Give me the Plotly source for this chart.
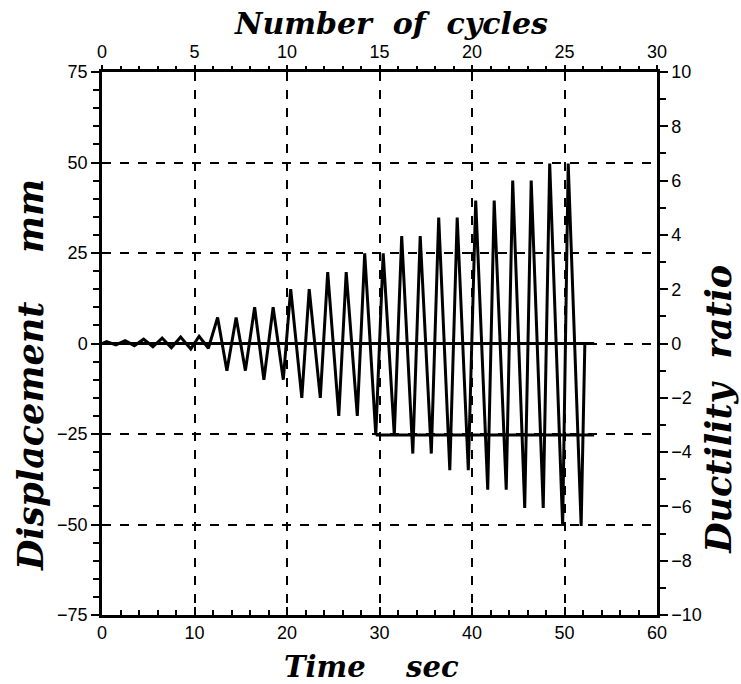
import plotly.graph_objects as go

# ---- data ----
peak_times = [0.5, 2.5, 4.5, 6.5, 8.5, 10.5, 12.5, 14.5, 16.5, 18.5,
              20.4, 22.4, 24.4, 26.4, 28.4, 30.4, 32.4, 34.4, 36.4, 38.4,
              40.4, 42.4, 44.4, 46.4, 48.4, 50.4]
peak_vals = [0.5, 0.8, 1.2, 1.5, 1.8, 2.0, 7.2, 7.2, 10.0, 10.0,
             15.0, 15.0, 19.7, 19.7, 24.9, 24.9, 29.7, 29.7, 34.8, 34.8,
             39.5, 39.5, 45.0, 45.0, 49.7, 49.7]
trough_times = [1.5, 3.5, 5.5, 7.5, 9.6, 11.5, 13.5, 15.5, 17.5, 19.6,
                21.6, 23.6, 25.6, 27.6, 29.6, 31.6, 33.6, 35.6, 37.6, 39.6,
                41.7, 43.7, 45.7, 47.7, 49.8, 51.8]
trough_vals = [-0.4, -0.6, -0.9, -1.2, -1.5, -1.3, -7.5, -7.5, -10.0, -10.0,
               -15.0, -15.0, -20.0, -20.0, -25.3, -25.3, -30.4, -30.4, -35.0, -35.0,
               -40.4, -40.4, -45.4, -45.4, -50.4, -50.4]
start_time, start_val = 0.0, 0.0
end_times = [52.2, 53.2]
end_vals = [0.0, 0.0]

# horizontal solid levels seen in the record
hold_levels = [0.0, -25.3]
hold_starts = [0.0, 29.6]
hold_ends = [53.2, 53.2]

time_ticks = [0, 10, 20, 30, 40, 50, 60]
cycle_ticks = [0, 5, 10, 15, 20, 25, 30]
disp_ticks = [-75, -50, -25, 0, 25, 50, 75]
duct_ticks = [-10, -8, -6, -4, -2, 0, 2, 4, 6, 8, 10]

# build time history from the points
t = [start_time]
d = [start_val]
for pt, pv, tt, tv in zip(peak_times, peak_vals, trough_times, trough_vals):
    t += [pt, tt]
    d += [pv, tv]
t += end_times
d += end_vals

fig = go.Figure()

for lvl, s, e in zip(hold_levels, hold_starts, hold_ends):
    fig.add_trace(go.Scatter(x=[s, e], y=[lvl, lvl], mode="lines",
                             line=dict(color="black", width=3),
                             showlegend=False, hoverinfo="skip"))

fig.add_trace(go.Scatter(x=t, y=d, mode="lines",
                         line=dict(color="black", width=3),
                         showlegend=False))

# invisible trace to activate the cycle / ductility axes
fig.add_trace(go.Scatter(x=[cycle_ticks[0], cycle_ticks[-1]],
                         y=[duct_ticks[0], duct_ticks[-1]],
                         xaxis="x2", yaxis="y2", mode="lines",
                         line=dict(color="rgba(0,0,0,0)"),
                         showlegend=False, hoverinfo="skip"))

tickfont = dict(family="Liberation Sans, Arial, sans-serif", size=18, color="black")
grid = dict(showgrid=True, gridcolor="black", gridwidth=2, griddash="dash")

fig.update_layout(
    width=741, height=684,
    margin=dict(l=102, r=84, t=72, b=69),
    paper_bgcolor="white", plot_bgcolor="white",
    xaxis=dict(range=[0, 60], tickvals=time_ticks, ticks="inside", ticklen=8,
               tickwidth=2, tickcolor="black", showline=True, linecolor="black",
               linewidth=2.5, zeroline=False, tickfont=tickfont,
               minor=dict(dtick=2, ticks="inside", ticklen=5, tickwidth=2,
                          tickcolor="black", showgrid=False),
               **grid),
    xaxis2=dict(range=[0, 30], tickvals=cycle_ticks, overlaying="x", side="top",
                anchor="y", ticks="outside", ticklen=4, tickwidth=2,
                tickcolor="black", showline=True, linecolor="black",
                linewidth=2.5, zeroline=False, showgrid=False, tickfont=tickfont,
                minor=dict(dtick=1, ticks="outside", ticklen=3, tickwidth=2,
                           tickcolor="black")),
    yaxis=dict(range=[-75, 75], tickvals=disp_ticks, ticks="outside", ticklen=8,
               tickwidth=2, tickcolor="black", showline=True, linecolor="black",
               linewidth=2.5, zeroline=False, tickfont=tickfont,
               minor=dict(dtick=5, ticks="outside", ticklen=6, tickwidth=2,
                          tickcolor="black", showgrid=False),
               **grid),
    yaxis2=dict(range=[-10, 10], tickvals=duct_ticks, overlaying="y", side="right",
                anchor="x", ticks="outside", ticklen=8, tickwidth=2,
                tickcolor="black", showline=True, linecolor="black",
                linewidth=2.5, zeroline=False, showgrid=False, tickfont=tickfont,
                minor=dict(dtick=1, ticks="outside", ticklen=6, tickwidth=2,
                           tickcolor="black")),
)

def tfont(size):
    return dict(family="DejaVu Serif, serif", size=size, color="black",
                weight="bold", style="italic")

nb = "\u00a0"
fig.add_annotation(text="Number" + nb * 2 + "of" + nb * 2 + "cycles",
                   xref="paper", yref="paper",
                   x=0.52, y=1.0, yshift=49, showarrow=False, font=tfont(30),
                   xanchor="center", yanchor="middle")
fig.add_annotation(text="Time" + nb * 4 + "sec", xref="paper", yref="paper",
                   x=0.486, y=0.0, yshift=-52, showarrow=False, font=tfont(29),
                   xanchor="center", yanchor="middle")
fig.add_annotation(text="Displacement" + nb * 4 + "mm", xref="paper", yref="paper",
                   x=0.0, xshift=-71, y=0.442, showarrow=False, font=tfont(35),
                   textangle=-90, xanchor="center", yanchor="middle")
fig.add_annotation(text="Ductility" + nb * 2 + "ratio", xref="paper", yref="paper",
                   x=1.0, xshift=62, y=0.378, showarrow=False, font=tfont(35),
                   textangle=-90, xanchor="center", yanchor="middle")

fig.write_html("out.html")
